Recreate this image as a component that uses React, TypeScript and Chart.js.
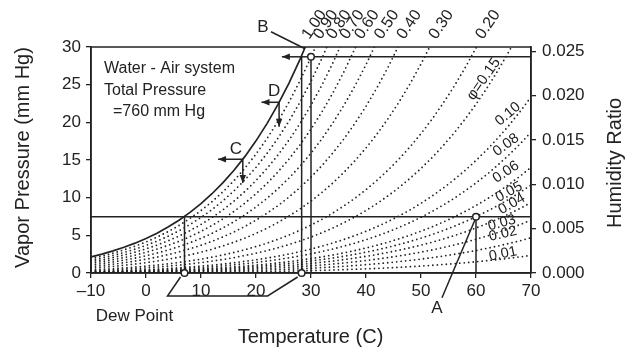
import React, { useEffect, useRef } from "react";
import { Chart, registerables } from "chart.js";
Chart.register(...registerables);

// Temperature grid (°C) and saturation vapor pressure of water (mm Hg)
const temps = [-10, -8, -6, -4, -2, 0, 2, 4, 6, 8, 10, 12, 14, 16, 18, 20, 22, 24, 26, 28, 30, 32, 34, 36, 38, 40, 42, 44, 46, 48, 50, 52, 54, 56, 58, 60, 62, 64, 66, 68, 70];
const psat = [2.15, 2.51, 2.93, 3.41, 3.96, 4.58, 5.29, 6.10, 7.01, 8.05, 9.21, 10.52, 11.99, 13.63, 15.48, 17.54, 19.83, 22.38, 25.21, 28.35, 31.82, 35.66, 39.90, 44.56, 49.69, 55.32, 61.50, 68.26, 75.65, 83.71, 92.51, 102.09, 112.51, 123.80, 136.08, 149.38, 163.77, 179.31, 196.09, 214.17, 233.7];

// Relative humidity levels
const rhLevels = [1.0, 0.9, 0.8, 0.7, 0.6, 0.5, 0.4, 0.3, 0.2, 0.15, 0.1, 0.08, 0.06, 0.05, 0.04, 0.03, 0.02, 0.01];

// Top labels (curve tops) : label text and temperature where they start
const topLabels = ["1.00", "0.90", "0.80", "0.70", "0.60", "0.50", "0.40", "0.30", "0.20"];
const topLabelTemps = [28.4, 30.5, 32.9, 35.3, 38.0, 41.6, 45.7, 51.5, 60.0];

// Inside labels: text, temperature, pressure, angle
const innerLabels = ["φ=0.15", "0.10", "0.08", "0.06", "0.05", "0.04", "0.03", "0.02", "0.01"];
const innerLabelTemps = [61.4, 65.8, 65.45, 65.45, 66.0, 66.5, 64.7, 64.9, 64.9];
const innerLabelPress = [25.75, 21.1, 17.0, 13.4, 10.75, 9.15, 6.64, 5.18, 2.52];
const innerLabelAngles = [55, 40, 36, 34, 28, 30, 15, 13, 12];

// Points of interest
const pointA = { t: 60, p: 7.47 };
const dewA = 7.0;
const pointB = { t: 30, p: 28.7 };
const dewB = 28.3;
const arrowBEndT = 24.7;
const pointC = { t: 17.6, p: 15.1, leftT: 13.1, downP: 11.95 };
const pointD = { t: 24.2, p: 22.66, leftT: 21.0, downP: 19.4 };

// Axes ticks
const xTicks = [-10, 0, 10, 20, 30, 40, 50, 60, 70];
const yTicks = [0, 5, 10, 15, 20, 25, 30];
const hrTicks = [0, 0.005, 0.01, 0.015, 0.02, 0.025];
const hrMax = 0.0255;

const INK = "#222";
const FONT = "'Liberation Sans', Arial, Helvetica, sans-serif";

function arrow(ctx: CanvasRenderingContext2D, x1: number, y1: number, x2: number, y2: number) {
  ctx.beginPath();
  ctx.moveTo(x1, y1);
  ctx.lineTo(x2, y2);
  ctx.stroke();
  const a = Math.atan2(y2 - y1, x2 - x1);
  const len = 8, w = 3.2;
  ctx.beginPath();
  ctx.moveTo(x2, y2);
  ctx.lineTo(x2 - len * Math.cos(a) + w * Math.sin(a), y2 - len * Math.sin(a) - w * Math.cos(a));
  ctx.lineTo(x2 - len * Math.cos(a) - w * Math.sin(a), y2 - len * Math.sin(a) + w * Math.cos(a));
  ctx.closePath();
  ctx.fill();
}

function line(ctx: CanvasRenderingContext2D, pts: number[][]) {
  ctx.beginPath();
  ctx.moveTo(pts[0][0], pts[0][1]);
  for (let i = 1; i < pts.length; i++) ctx.lineTo(pts[i][0], pts[i][1]);
  ctx.stroke();
}

function marker(ctx: CanvasRenderingContext2D, x: number, y: number) {
  ctx.beginPath();
  ctx.arc(x, y, 3.3, 0, Math.PI * 2);
  ctx.fillStyle = "#fff";
  ctx.fill();
  ctx.lineWidth = 1.5;
  ctx.stroke();
  ctx.fillStyle = INK;
}

const annotPlugin = {
  id: "annot",
  afterDraw(chart: any) {
    const ctx: CanvasRenderingContext2D = chart.ctx;
    const xs = chart.scales.x;
    const ys = chart.scales.y;
    const X = (t: number) => xs.getPixelForValue(t);
    const Y = (p: number) => ys.getPixelForValue(p);
    const { left, right, top, bottom } = chart.chartArea;
    ctx.save();
    ctx.strokeStyle = INK;
    ctx.fillStyle = INK;
    ctx.lineWidth = 1.5;
    ctx.lineCap = "butt";

    // frame
    ctx.strokeRect(left, top, right - left, bottom - top);

    // A lines
    line(ctx, [[left, Y(pointA.p)], [right, Y(pointA.p)]]);
    line(ctx, [[X(pointA.t), Y(pointA.p)], [X(pointA.t), bottom]]);
    line(ctx, [[X(dewA), Y(pointA.p)], [X(dewA), bottom]]);

    // B lines
    line(ctx, [[X(pointB.t), Y(pointB.p)], [right, Y(pointB.p)]]);
    arrow(ctx, X(pointB.t), Y(pointB.p), X(arrowBEndT), Y(pointB.p));
    line(ctx, [[X(pointB.t), Y(pointB.p)], [X(pointB.t), bottom]]);
    line(ctx, [[X(dewB), Y(pointB.p)], [X(dewB), bottom]]);

    // C and D arrows
    for (const c of [pointC, pointD]) {
      arrow(ctx, X(c.t), Y(c.p), X(c.leftT), Y(c.p));
      arrow(ctx, X(c.t), Y(c.p), X(c.t), Y(c.downP));
    }

    // leader lines
    const ax = X(pointA.t), ay = Y(pointA.p);
    line(ctx, [[ax - 34, ay + 81], [ax - 1, ay + 3]]);
    const bx = X(pointB.t), by = Y(pointB.p);
    line(ctx, [[bx - 40, by - 25], [bx - 6, by - 8]]);

    // dew point bracket
    const dax = X(dewA), dbx = X(dewB);
    line(ctx, [[dax - 4, bottom + 4], [dax - 17, bottom + 23], [dbx - 34, bottom + 23], [dbx - 4, bottom + 4]]);

    // markers
    marker(ctx, ax, ay);
    marker(ctx, bx, by);
    marker(ctx, dax, bottom);
    marker(ctx, dbx, bottom);

    // letter labels
    ctx.fillStyle = INK;
    ctx.textAlign = "center";
    ctx.textBaseline = "middle";
    ctx.font = `17px ${FONT}`;
    ctx.fillText("A", ax - 39, ay + 92);
    ctx.fillText("B", bx - 48, by - 29);
    ctx.fillText("C", X(pointC.t) - 7, Y(pointC.p) - 10);
    ctx.fillText("D", X(pointD.t) - 5, Y(pointD.p) - 11);
    ctx.fillText("Dew Point", dax - 50, bottom + 43);

    // system text
    ctx.textAlign = "left";
    ctx.font = `16px ${FONT}`;
    ctx.fillText("Water - Air system", left + 13, top + 22);
    ctx.fillText("Total Pressure", left + 13, top + 44);
    ctx.fillText("=760 mm Hg", left + 22, top + 65);

    // top labels
    ctx.font = `16px ${FONT}`;
    ctx.textBaseline = "alphabetic";
    ctx.textAlign = "left";
    for (let i = 0; i < topLabels.length; i++) {
      ctx.save();
      ctx.translate(X(topLabelTemps[i]) + 7, top - 7);
      ctx.rotate((-56 * Math.PI) / 180);
      ctx.fillText(topLabels[i], 0, 0);
      ctx.restore();
    }

    // inner labels
    ctx.textAlign = "center";
    ctx.textBaseline = "middle";
    for (let i = 0; i < innerLabels.length; i++) {
      ctx.font = `${i === 0 ? 15 : 14.5}px ${FONT}`;
      ctx.save();
      ctx.translate(X(innerLabelTemps[i]), Y(innerLabelPress[i]));
      ctx.rotate((-innerLabelAngles[i] * Math.PI) / 180);
      ctx.fillText(innerLabels[i], 0, 0);
      ctx.restore();
    }

    // axis titles
    ctx.font = `20px ${FONT}`;
    ctx.textAlign = "center";
    ctx.textBaseline = "middle";
    ctx.save();
    ctx.translate(23, (top + bottom) / 2 - 2.5);
    ctx.rotate(-Math.PI / 2);
    ctx.fillText("Vapor Pressure (mm Hg)", 0, 0);
    ctx.restore();
    ctx.fillText("Temperature (C)", (left + right) / 2 - 0.5, 337);
    ctx.save();
    ctx.translate(615.5, (top + bottom) / 2 + 3);
    ctx.rotate(-Math.PI / 2);
    ctx.fillText("Humidity Ratio", 0, 0);
    ctx.restore();

    ctx.restore();
  },
};

export default function App() {
  const ref = useRef<HTMLCanvasElement | null>(null);
  useEffect(() => {
    if (!ref.current) return;
    const datasets = rhLevels.map((rh) => ({
      label: rh.toFixed(2),
      data: temps.map((t, i) => ({ x: t, y: rh * psat[i] })),
      borderColor: INK,
      borderWidth: rh === 1 ? 1.7 : 1.8,
      borderDash: rh === 1 ? [] : [0, 4.5],
      borderCapStyle: rh === 1 ? "butt" : "round",
      pointRadius: 0,
      fill: false,
      tension: 0,
      yAxisID: "y",
    }));
    const tickFont = { family: FONT, size: 17 };
    const grid = { drawOnChartArea: false, drawTicks: true, tickLength: 5, color: INK, lineWidth: 1.3 };
    const border = { display: true, color: INK, width: 1.5 };
    const chart = new Chart(ref.current, {
      type: "line",
      data: { datasets: datasets as any },
      options: {
        responsive: false,
        animation: false,
        layout: { padding: { top: 47, left: 0, right: 0, bottom: 0 } },
        plugins: { legend: { display: false }, tooltip: { enabled: false } },
        scales: {
          x: {
            type: "linear",
            min: -10,
            max: 70,
            afterBuildTicks: (s: any) => { s.ticks = xTicks.map((v) => ({ value: v })); },
            afterFit: (s: any) => { s.height = 75; },
            ticks: {
              color: INK,
              font: tickFont,
              padding: 3,
              callback: (v: any) => (Number(v) < 0 ? "–" + Math.abs(Number(v)) : String(v)),
            },
            grid,
            border,
          },
          y: {
            type: "linear",
            position: "left",
            min: 0,
            max: 30,
            afterBuildTicks: (s: any) => { s.ticks = yTicks.map((v) => ({ value: v })); },
            afterFit: (s: any) => { s.width = 91; },
            ticks: { color: INK, font: tickFont, padding: 5 },
            grid,
            border,
          },
          y2: {
            type: "linear",
            position: "right",
            min: 0,
            max: hrMax,
            afterBuildTicks: (s: any) => { s.ticks = hrTicks.map((v) => ({ value: v })); },
            afterFit: (s: any) => { s.width = 96; },
            ticks: { color: INK, font: tickFont, padding: 6, callback: (v: any) => Number(v).toFixed(3) },
            grid,
            border,
          },
        },
      } as any,
      plugins: [annotPlugin as any],
    });
    return () => chart.destroy();
  }, []);
  return (
    <div style={{ position: "fixed", left: 0, top: 0, width: 627, height: 348, background: "#fff" }}>
      <canvas ref={ref} width={627} height={348} style={{ width: 627, height: 348 }} />
    </div>
  );
}
